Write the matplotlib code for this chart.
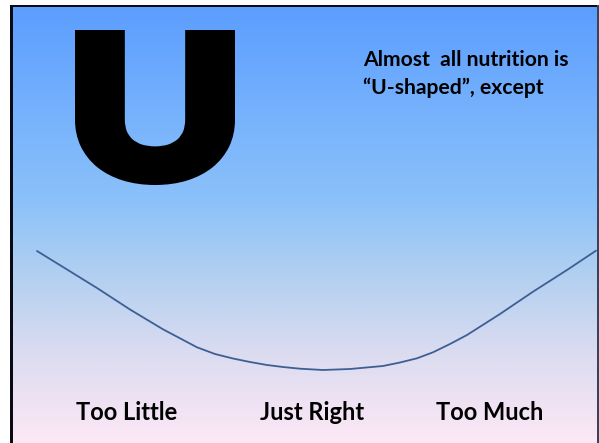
import numpy as np
import matplotlib
matplotlib.use("Agg")
import matplotlib.pyplot as plt
from matplotlib.colors import LinearSegmentedColormap
from matplotlib.patches import Rectangle, PathPatch
from matplotlib.textpath import TextPath
from matplotlib.font_manager import FontProperties
from matplotlib.transforms import Affine2D

# ---- data (in the slide's pixel space) ----
curve_x = [37, 63, 97, 130, 163, 197, 215, 233, 250, 267, 283, 300, 323, 350, 383, 400, 417, 433, 450, 467, 500, 533, 567, 596]
curve_y = [251, 267, 288, 309.5, 329.3, 347.3, 354, 358.5, 362, 365, 367, 368.7, 370, 369, 366, 362.5, 358.3, 352.3, 344, 335, 314, 291.7, 270, 250.7]
labels = ["Too Little", "Just Right", "Too Much"]
label_x = [127, 312, 490]
title_lines = ["Almost  all nutrition is", "\u201cU-shaped\u201d, except"]
big_letter = "U"

W, H = 599, 443
fig = plt.figure(figsize=(W / 100, H / 100), dpi=100)
ax = fig.add_axes([0, 0, 1, 1])
ax.set_xlim(0, W)
ax.set_ylim(H, 0)
ax.axis("off")

# gradient background
stops = [(0.0, "#5c9eff"), (0.45, "#8cc2fa"), (0.62, "#b3d0f0"), (0.8, "#dcdcf0"), (1.0, "#fde8f6")]
cmap = LinearSegmentedColormap.from_list("bg", stops)
grad = np.linspace(0, 1, 256).reshape(-1, 1)
ax.imshow(grad, cmap=cmap, aspect="auto", extent=(12, 597, H, 7), zorder=0)

# frame
ax.add_patch(Rectangle((10, 5), 2.5, H, color="#0a0a14", zorder=3, lw=0))
ax.add_patch(Rectangle((10, 5), 588, 2.2, color="#0a0a14", zorder=3, lw=0))
ax.add_patch(Rectangle((596.5, 5), 2, H, color="#3a4258", zorder=3, lw=0))

# curve
ax.plot(curve_x, curve_y, color="#3d5f94", lw=1.3, zorder=2, solid_capstyle="round")

# big heavy U: glyph outline scaled into its box, thickened with a stroke
fp = FontProperties(family="Lato", weight="black")
tp = TextPath((0, 0), big_letter, size=1, prop=fp)
ext = tp.get_extents()
half = 7.0  # half stroke width in px
bx0, bx1, by0, by1 = 75 + half, 235 - half, 30 + half, 185 - half
sx = (bx1 - bx0) / ext.width
sy = (by1 - by0) / ext.height
tr = Affine2D().translate(-ext.x0, -ext.y1).scale(sx, -sy).translate(bx0, by0)
upath = tr.transform_path(tp)
ax.add_patch(PathPatch(upath, facecolor="black", edgecolor="black",
                       lw=2 * half * 72 / 100, joinstyle="miter", zorder=2))

# title text
for i, t in enumerate(title_lines):
    ax.text(363, 66 + i * 28, t, fontsize=15.2, fontweight="bold", family=["Lato", "DejaVu Sans"],
            ha="left", va="baseline", color="black")

for lx, lab in zip(label_x, labels):
    ax.text(lx, 420, lab, fontsize=17, fontweight="bold", family=["Lato", "DejaVu Sans"],
            ha="center", va="baseline", color="black")

fig.savefig("out.png", dpi=100)
